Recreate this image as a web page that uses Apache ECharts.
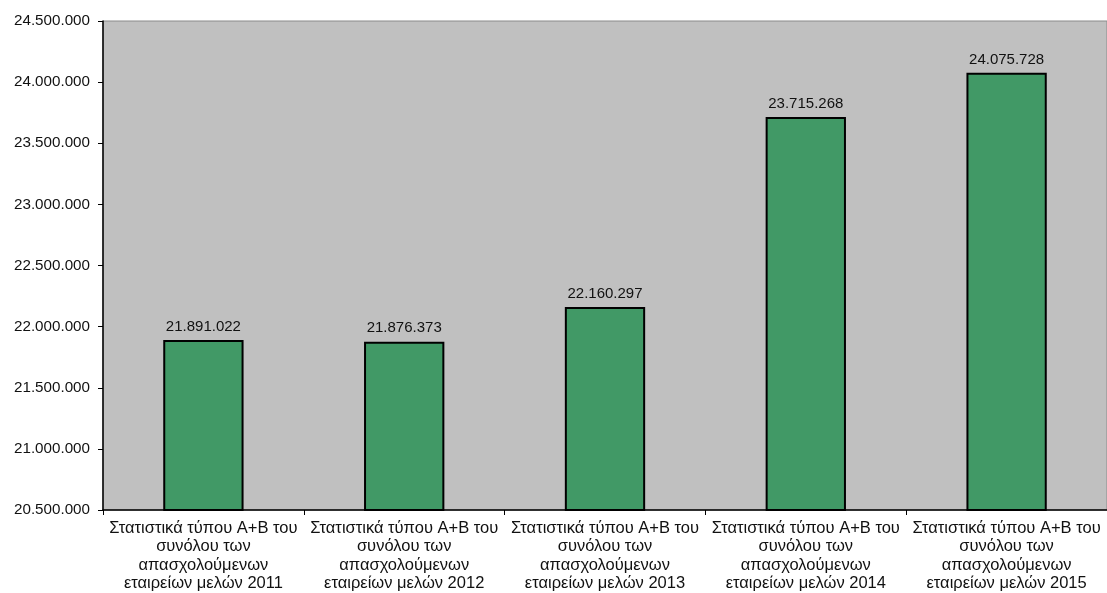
<!DOCTYPE html>
<html><head><meta charset="utf-8">
<script src="https://cdn.jsdelivr.net/npm/echarts@6/dist/echarts.min.js"></script>
<style>html,body{margin:0;padding:0;background:#fff}#c{width:1107px;height:593px}</style>
</head><body><div id="c"></div>
<script>
const categories = [
  "Στατιστικά τύπου Α+Β του\nσυνόλου των\nαπασχολούμενων\nεταιρείων μελών 2011",
  "Στατιστικά τύπου Α+Β του\nσυνόλου των\nαπασχολούμενων\nεταιρείων μελών 2012",
  "Στατιστικά τύπου Α+Β του\nσυνόλου των\nαπασχολούμενων\nεταιρείων μελών 2013",
  "Στατιστικά τύπου Α+Β του\nσυνόλου των\nαπασχολούμενων\nεταιρείων μελών 2014",
  "Στατιστικά τύπου Α+Β του\nσυνόλου των\nαπασχολούμενων\nεταιρείων μελών 2015"
];
const values = [21891022, 21876373, 22160297, 23715268, 24075728];
const yMin = 20500000, yMax = 24500000, yStep = 500000;

function fmt(v){ return String(Math.round(v)).replace(/\B(?=(\d{3})+(?!\d))/g, '.'); }

const FF = 'Liberation Sans, Arial, sans-serif';
const chart = echarts.init(document.getElementById('c'));
chart.setOption({
  animation: false,
  textStyle: { fontFamily: FF },
  grid: { left: 103, right: 0, top: 21, bottom: 81, show: true, backgroundColor: '#c0c0c0', borderColor: '#8a8a8a', borderWidth: 1 },
  xAxis: {
    type: 'category', data: categories,
    axisLine: { lineStyle: { color: '#000', width: 1.5 } },
    axisTick: { show: true, alignWithLabel: false, length: 5, lineStyle: { color: '#000' } },
    axisLabel: { interval: 0, color: '#111', fontSize: 16.5, lineHeight: 18.5, margin: 9, fontFamily: FF },
    splitLine: { show: false }
  },
  yAxis: {
    type: 'value', min: yMin, max: yMax, interval: yStep,
    axisLine: { show: true, lineStyle: { color: '#000', width: 1.5 } },
    axisTick: { show: true, length: 5, lineStyle: { color: '#000' } },
    axisLabel: { color: '#111', fontSize: 15.2, margin: 13, formatter: fmt, fontFamily: FF },
    splitLine: { show: false }
  },
  series: [{
    type: 'bar', data: values, barWidth: '40%',
    itemStyle: { color: '#419966', borderColor: '#000', borderWidth: 2 },
    label: { show: true, position: 'top', distance: 6, color: '#111', fontSize: 15, formatter: p => fmt(p.value), fontFamily: FF }
  }]
});
</script></body></html>
